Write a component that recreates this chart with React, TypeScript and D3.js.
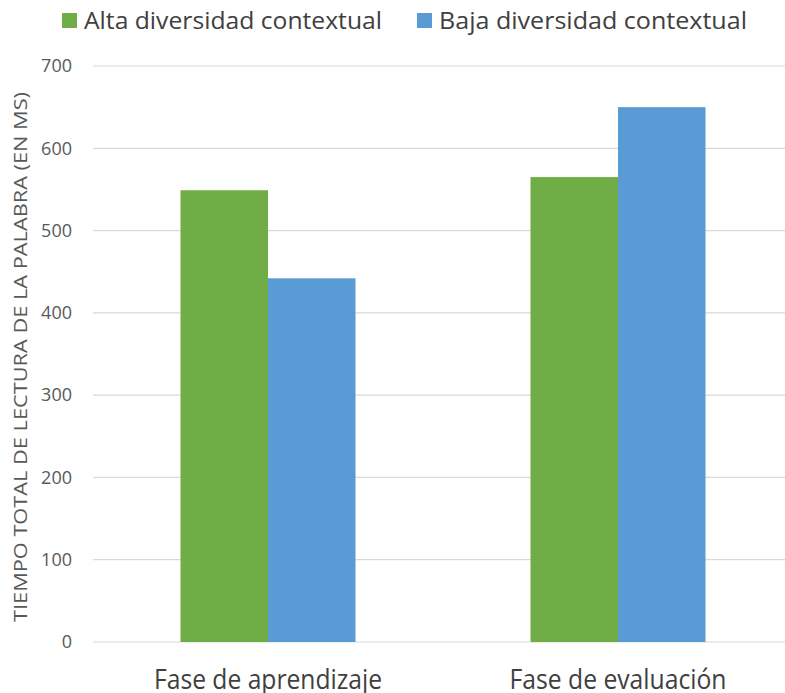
import React, { useEffect, useRef } from 'react';
import * as d3 from 'd3';

const categories = ['Fase de aprendizaje', 'Fase de evaluación'];
const seriesNames = ['Alta diversidad contextual', 'Baja diversidad contextual'];
const altaValues = [549, 565];
const bajaValues = [442, 650];
const yTicks = [0, 100, 200, 300, 400, 500, 600, 700];
const yTitle = 'TIEMPO TOTAL DE LECTURA DE LA PALABRA (EN MS)';

const colors = ['#70AD47', '#5B9BD5'];
const width = 785;
const height = 693;

export default function App() {
  const ref = useRef<SVGSVGElement>(null);

  useEffect(() => {
    const svg = d3.select(ref.current);
    svg.selectAll('*').remove();
    const font = "'Open Sans', sans-serif";

    const x0 = d3.scaleBand().domain(categories).range([93, 793]).paddingInner(0.5).paddingOuter(0.25);
    const x1 = d3.scaleBand().domain(seriesNames).range([0, x0.bandwidth()]);
    const y = d3.scaleLinear().domain([0, 700]).range([642, 66]);

    // gridlines
    svg
      .append('g')
      .selectAll('line')
      .data(yTicks)
      .join('line')
      .attr('x1', 93)
      .attr('x2', width)
      .attr('y1', d => y(d))
      .attr('y2', d => y(d))
      .attr('stroke', '#d9d9d9')
      .attr('stroke-width', 1.2);

    svg
      .append('g')
      .selectAll('text')
      .data(yTicks)
      .join('text')
      .attr('x', 72)
      .attr('y', d => y(d))
      .attr('dy', '0.35em')
      .attr('text-anchor', 'end')
      .attr('font-family', font)
      .attr('font-size', 18)
      .attr('fill', '#595959')
      .text(d => d);

    const rows = categories.map((c, i) => ({ cat: c, vals: [altaValues[i], bajaValues[i]] }));

    svg
      .append('g')
      .selectAll('g')
      .data(rows)
      .join('g')
      .attr('transform', d => `translate(${x0(d.cat)},0)`)
      .selectAll('rect')
      .data(d => d.vals.map((v, i) => ({ name: seriesNames[i], v, i })))
      .join('rect')
      .attr('x', d => x1(d.name)!)
      .attr('width', x1.bandwidth())
      .attr('y', d => y(d.v))
      .attr('height', d => y(0) - y(d.v))
      .attr('fill', d => colors[d.i]);

    // category labels (condensed like the original)
    const catLen = [228, 217];
    svg
      .append('g')
      .selectAll('text')
      .data(categories)
      .join('text')
      .attr('x', d => x0(d)! + x0.bandwidth() / 2)
      .attr('y', 689)
      .attr('text-anchor', 'middle')
      .attr('font-family', font)
      .attr('font-size', 28)
      .attr('textLength', (d, i) => catLen[i])
      .attr('lengthAdjust', 'spacingAndGlyphs')
      .attr('fill', '#404040')
      .text(d => d);

    svg
      .append('text')
      .attr('transform', `translate(27,${(y(0) + y(700)) / 2 + 3}) rotate(-90)`)
      .attr('text-anchor', 'middle')
      .attr('font-family', font)
      .attr('font-size', 19)
      .attr('textLength', 530)
      .attr('lengthAdjust', 'spacingAndGlyphs')
      .attr('fill', '#595959')
      .text(yTitle);

    const legendX = [62, 417];
    const legendLen = [298, 308];
    const legend = svg
      .append('g')
      .selectAll('g')
      .data(seriesNames)
      .join('g')
      .attr('transform', (d, i) => `translate(${legendX[i]},0)`);
    legend
      .append('rect')
      .attr('x', 0)
      .attr('y', 13)
      .attr('width', 15)
      .attr('height', 15)
      .attr('fill', (d, i) => colors[i]);
    legend
      .append('text')
      .attr('x', 22)
      .attr('y', 29)
      .attr('font-family', font)
      .attr('font-size', 24)
      .attr('textLength', (d, i) => legendLen[i])
      .attr('lengthAdjust', 'spacingAndGlyphs')
      .attr('fill', '#404040')
      .text(d => d);
  }, []);

  return (
    <div style={{ position: 'fixed', left: 0, top: 0, background: '#fff' }}>
      <svg ref={ref} width={width} height={height} style={{ display: 'block' }} />
    </div>
  );
}
